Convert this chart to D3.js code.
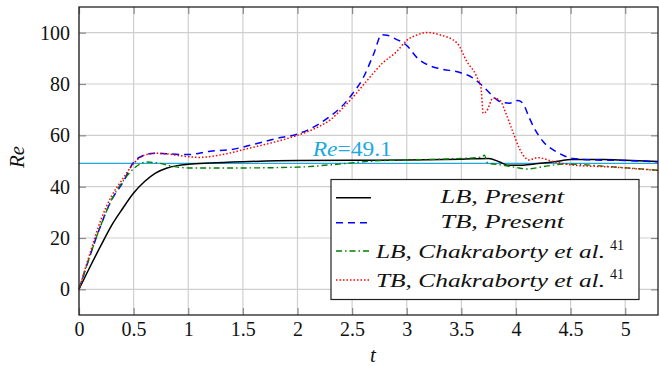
<!DOCTYPE html>
<html>
<head>
<meta charset="utf-8">
<script src="https://cdn.jsdelivr.net/npm/d3@7"></script>
<style>
  body { margin: 0; background: #fff; }
  svg { display: block; }
  svg text { font-family: "Liberation Serif" !important; }
</style>
</head>
<body>
<script>
// values, [t, Re]
const lbPresent = [[0,0],[0.1,8.7],[0.2,17],[0.3,25],[0.4,31.5],[0.5,37.5],[0.6,42],[0.7,45.3],[0.8,47.2],[0.9,48.2],[1.0,48.7],[1.2,49.2],[1.5,49.7],[2.0,50.2],[2.5,50.3],[3.0,50.4],[3.5,50.7],[3.75,51.0],[3.85,49.6],[3.93,48.3],[4.0,48.3],[4.2,49.0],[4.4,50.0],[4.5,50.6],[4.8,50.6],[5.0,50.3],[5.3,49.8]]
const tbPresent = [[0,0],[0.1,13],[0.2,25],[0.3,35],[0.4,41.5],[0.5,49.5],[0.6,52.3],[0.7,53],[0.8,52.8],[1.0,52.5],[1.2,53.8],[1.4,54.5],[1.6,56.5],[1.8,58.7],[2.0,60.5],[2.2,64.5],[2.3,67.5],[2.4,71],[2.5,76],[2.6,82.3],[2.7,92],[2.77,99.2],[2.82,99],[2.9,97.5],[3.0,95],[3.1,90],[3.2,87.3],[3.3,86],[3.5,84.3],[3.6,82.5],[3.7,79],[3.77,76],[3.85,73.2],[3.94,72.5],[4.02,73.6],[4.07,72],[4.12,67],[4.16,63.4],[4.25,57.5],[4.37,53.6],[4.52,51],[4.74,50.4],[5.0,50.2],[5.3,49.7]]
const lbChakraborty = [[0,0],[0.1,13],[0.2,25],[0.3,35],[0.4,42],[0.5,47],[0.62,49.6],[0.74,49.1],[0.86,47.9],[1.0,47.3],[1.5,47.3],[2.0,47.6],[2.3,48.5],[2.7,50],[3.0,50.4],[3.3,50.7],[3.69,51.5],[3.71,52.3],[3.74,49.2],[3.88,48.4],[4.0,47.5],[4.1,46.9],[4.25,47.8],[4.43,48.8],[4.55,48.7],[4.86,47.8],[5.3,46.4]]
const tbChakraborty = [[0,0],[0.1,14],[0.2,27],[0.3,36.5],[0.4,43],[0.5,49],[0.6,52.3],[0.7,53],[0.8,52.8],[0.9,52.2],[1.0,51.7],[1.1,51.4],[1.3,52.4],[1.56,55],[1.8,57.5],[2.0,60],[2.2,63.5],[2.3,66],[2.4,70],[2.51,75],[2.63,81],[2.78,88.2],[2.91,92.7],[3.0,97],[3.1,99.2],[3.18,100.1],[3.3,99.2],[3.46,96],[3.55,88.8],[3.64,82.9],[3.68,78.4],[3.70,68.6],[3.73,69.3],[3.79,74.5],[3.85,73.8],[3.91,68.3],[3.97,61.5],[4.03,55],[4.08,51.5],[4.12,50.4],[4.2,51.3],[4.34,49.8],[4.52,48.4],[4.9,47.6],[5.3,46.3]]
const reCritical = 49.1
const xTicks = [0,0.5,1,1.5,2,2.5,3,3.5,4,4.5,5]
const yTicks = [0,20,40,60,80,100]
const legendLabels = ["LB, Present", "TB, Present", "LB, Chakraborty et al.", "TB, Chakraborty et al."]
const legendRefs = ["", "", "41", "41"]

const width = 660, height = 366
const box = {left: 79, right: 658, top: 7, bottom: 315}

const x = d3.scaleLinear().domain([0, 5.3]).range([box.left, box.right])
const y = d3.scaleLinear().domain([-10, 110]).range([box.bottom, box.top])

const svg = d3.select("body").append("svg")
  .attr("width", width)
  .attr("height", height)

// grid
svg.append("g").selectAll("line").data(xTicks).join("line")
  .attr("x1", d => x(d)).attr("x2", d => x(d))
  .attr("y1", box.top).attr("y2", box.bottom)
  .attr("stroke", "#cfcfcf").attr("stroke-width", 1.2)
svg.append("g").selectAll("line").data(yTicks).join("line")
  .attr("x1", box.left).attr("x2", box.right)
  .attr("y1", d => y(d)).attr("y2", d => y(d))
  .attr("stroke", "#cfcfcf").attr("stroke-width", 1.2)

// axes, ticks pointing inward on all four sides
function styleAxis(g) {
  g.select(".domain").remove()
  g.selectAll(".tick line").attr("stroke", "#8a8a8a").attr("stroke-width", 1.2)
  g.attr("font-family", "Liberation Serif").attr("font-size", 20)
}
svg.append("g").attr("transform", `translate(0,${box.bottom})`)
  .call(d3.axisBottom(x).tickValues(xTicks).tickSize(-7).tickFormat(d => String(d)))
  .call(styleAxis)
  .selectAll("text").attr("y", 21).attr("dy", 0).attr("fill", "#111")
svg.append("g").attr("transform", `translate(0,${box.top})`)
  .call(d3.axisTop(x).tickValues(xTicks).tickSize(-7).tickFormat(""))
  .call(styleAxis)
svg.append("g").attr("transform", `translate(${box.left},0)`)
  .call(d3.axisLeft(y).tickValues(yTicks).tickSize(-7).tickPadding(9))
  .call(styleAxis)
  .selectAll("text").attr("fill", "#111")
svg.append("g").attr("transform", `translate(${box.right},0)`)
  .call(d3.axisRight(y).tickValues(yTicks).tickSize(-7).tickFormat(""))
  .call(styleAxis)

// critical Re line
const cyan = "#22a8e0"
svg.append("line")
  .attr("x1", box.left).attr("x2", box.right)
  .attr("y1", y(reCritical)).attr("y2", y(reCritical))
  .attr("stroke", cyan).attr("stroke-width", 1.3)
const reLabel = svg.append("text")
  .attr("x", x(2.14)).attr("y", 156)
  .attr("fill", cyan).attr("font-size", 20)
  .attr("textLength", 79).attr("lengthAdjust", "spacingAndGlyphs")
reLabel.append("tspan").attr("font-style", "italic").text("Re")
reLabel.append("tspan").text("=" + reCritical)

// series
const series = [
  {data: lbPresent, color: "#000000", dash: null, w: 1.5},
  {data: tbPresent, color: "#0000ff", dash: "7,5", w: 1.5},
  {data: lbChakraborty, color: "#008000", dash: "6,3,1.5,3", w: 1.4},
  {data: tbChakraborty, color: "#ff0000", dash: "1.5,2", w: 1.5},
]
const line = d3.line().x(d => x(d[0])).y(d => y(d[1])).curve(d3.curveMonotoneX)

svg.append("g").selectAll("path").data(series).join("path")
  .attr("d", d => line(d.data))
  .attr("fill", "none")
  .attr("stroke", d => d.color)
  .attr("stroke-width", d => d.w)
  .attr("stroke-dasharray", d => d.dash)

// frame
svg.append("rect")
  .attr("x", box.left).attr("y", box.top)
  .attr("width", box.right - box.left).attr("height", box.bottom - box.top)
  .attr("fill", "none").attr("stroke", "#222").attr("stroke-width", 1.3)

// legend
const legend = svg.append("g")
legend.append("rect")
  .attr("x", 331).attr("y", 179.5).attr("width", 308).attr("height", 120)
  .attr("fill", "#fff").attr("stroke", "#222").attr("stroke-width", 1.2)
const rowY = [197.7, 222.7, 251, 280]
const rowBase = [202.7, 228.3, 257.7, 287]
series.forEach((s, i) => {
  legend.append("line")
    .attr("x1", 336).attr("x2", 371)
    .attr("y1", rowY[i]).attr("y2", rowY[i])
    .attr("stroke", s.color).attr("stroke-width", s.w)
    .attr("stroke-dasharray", s.dash)
  if (legendRefs[i]) {
    legend.append("text")
      .attr("x", 376).attr("y", rowBase[i])
      .attr("font-size", 19).attr("font-style", "italic").attr("fill", "#111")
      .attr("textLength", 229).attr("lengthAdjust", "spacingAndGlyphs")
      .text(legendLabels[i])
    legend.append("text")
      .attr("x", 610).attr("y", rowBase[i] - 8)
      .attr("font-size", 14).attr("fill", "#111")
      .text(legendRefs[i])
  } else {
    legend.append("text")
      .attr("x", 440.5).attr("y", rowBase[i])
      .attr("font-size", 19).attr("font-style", "italic").attr("fill", "#111")
      .attr("textLength", 123.5).attr("lengthAdjust", "spacingAndGlyphs")
      .text(legendLabels[i])
  }
})

// axis titles
svg.append("text")
  .attr("x", 373).attr("y", 362)
  .attr("text-anchor", "middle").attr("font-size", 21).attr("font-style", "italic")
  .attr("fill", "#111")
  .text("t")
svg.append("text")
  .attr("transform", "translate(24,157) rotate(-90)")
  .attr("text-anchor", "middle").attr("font-size", 21).attr("font-style", "italic")
  .attr("fill", "#111")
  .text("Re")
</script>
</body>
</html>
